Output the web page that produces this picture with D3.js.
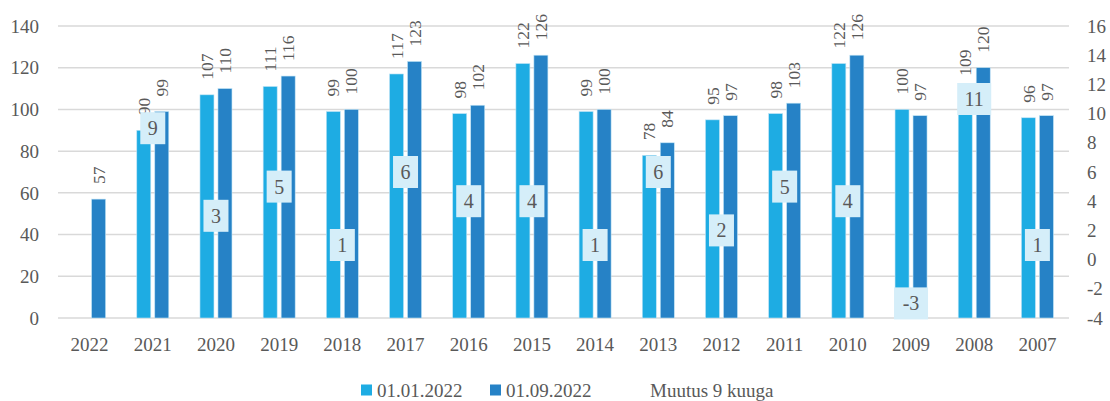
<!DOCTYPE html>
<html>
<head>
<meta charset="utf-8">
<script src="https://cdn.jsdelivr.net/npm/d3@7.9.0/dist/d3.min.js"></script>
<style>
  body { margin: 0; background: #fff; }
  svg text { font-family: "Liberation Serif", serif; fill: #595959; }
</style>
</head>
<body>
<div id="chart"></div>
<script>
// data
const years   = ["2022","2021","2020","2019","2018","2017","2016","2015","2014","2013","2012","2011","2010","2009","2008","2007"];
const jan2022 = [null, 90, 107, 111, 99, 117, 98, 122, 99, 78, 95, 98, 122, 100, 109, 96];
const sep2022 = [57, 99, 110, 116, 100, 123, 102, 126, 100, 84, 97, 103, 126, 97, 120, 97];
const change  = [null, 9, 3, 5, 1, 6, 4, 4, 1, 6, 2, 5, 4, -3, 11, 1];
const leftTicks  = [0, 20, 40, 60, 80, 100, 120, 140];
const rightTicks = [-4, -2, 0, 2, 4, 6, 8, 10, 12, 14, 16];
const seriesNames = ["01.01.2022", "01.09.2022", "Muutus 9 kuuga"];

const W = 1110, H = 401;
const margin = { top: 26, right: 41, bottom: 83, left: 58 };
const width  = W - margin.left - margin.right,
      height = H - margin.top - margin.bottom;

const colLight = "#1eace3", colDark = "#2682c6", colBox = "#d5eef9";

const svg = d3.select("#chart").append("svg")
    .attr("width", W).attr("height", H);
const g = svg.append("g").attr("transform", `translate(${margin.left},${margin.top})`);

const x = d3.scaleBand().domain(years).range([0, width]);
const y = d3.scaleLinear().domain([0, 140]).range([height, 0]);
const y2 = d3.scaleLinear().domain([-4, 16]).range([height, 0]);

const barW = 14, gap = 4;

// gridlines
g.selectAll(".grid").data(leftTicks).join("line")
    .attr("x1", 0).attr("x2", width)
    .attr("y1", d => y(d)).attr("y2", d => y(d))
    .attr("stroke", "#d9d9d9").attr("stroke-width", 1.5);

// left axis labels
g.selectAll(".ltick").data(leftTicks).join("text")
    .attr("x", -19).attr("y", d => y(d)).attr("dy", "0.35em")
    .attr("text-anchor", "end").style("font-size", "19px")
    .text(d => d);

// right axis labels
g.selectAll(".rtick").data(rightTicks).join("text")
    .attr("x", width + 18).attr("y", d => y2(d)).attr("dy", "0.35em")
    .attr("text-anchor", "start").style("font-size", "19px")
    .text(d => d);

// category labels
g.selectAll(".xlab").data(years).join("text")
    .attr("x", d => x(d) + x.bandwidth() / 2).attr("y", height + 33)
    .attr("text-anchor", "middle").style("font-size", "19px")
    .text(d => d);

const rows = years.map((yr, i) => ({ yr, a: jan2022[i], b: sep2022[i], c: change[i] }));
const bars = [];
rows.forEach(r => {
  const cx = x(r.yr) + x.bandwidth() / 2;
  if (r.a != null) bars.push({ x: cx - gap / 2 - barW, v: r.a, fill: colLight });
  if (r.b != null) bars.push({ x: cx + gap / 2, v: r.b, fill: colDark });
});

g.selectAll(".bar").data(bars).join("rect")
    .attr("x", d => d.x).attr("y", d => y(d.v))
    .attr("width", barW).attr("height", d => height - y(d.v))
    .attr("fill", d => d.fill)
    .attr("stroke", "#bfe3f5").attr("stroke-width", 0.6);

// value labels, rotated
g.selectAll(".vlab").data(bars).join("text")
    .attr("transform", d => `translate(${d.x + barW / 2},${y(d.v) - 15}) rotate(-90)`)
    .attr("dy", "0.35em").attr("text-anchor", "start")
    .style("font-size", "17.5px")
    .text(d => d.v);

// change boxes on right axis
const boxes = rows.filter(r => r.c != null);
const bg = g.selectAll(".box").data(boxes).join("g")
    .attr("transform", d => `translate(${x(d.yr) + x.bandwidth() / 2},${y2(d.c)})`);
bg.append("rect")
    .attr("x", d => -(String(d.c).length > 1 ? 17 : 12.5))
    .attr("width", d => String(d.c).length > 1 ? 34 : 25)
    .attr("y", -16).attr("height", 32)
    .attr("fill", colBox);
bg.append("text")
    .attr("text-anchor", "middle").attr("dy", "0.35em")
    .style("font-size", "20px")
    .text(d => d.c);

// legend
const legend = svg.append("g").attr("transform", `translate(361, 390)`);
const items = [
  { name: seriesNames[0], color: colLight, x: 0 },
  { name: seriesNames[1], color: colDark, x: 129 },
  { name: seriesNames[2], color: null, x: 273 }
];
items.forEach(it => {
  if (it.color) {
    legend.append("rect").attr("x", it.x).attr("y", -5.5)
      .attr("width", 11).attr("height", 11).attr("fill", it.color);
  }
  legend.append("text").attr("x", it.x + 16).attr("y", 0).attr("dy", "0.35em")
    .style("font-size", "19px").text(it.name);
});
</script>
</body>
</html>
